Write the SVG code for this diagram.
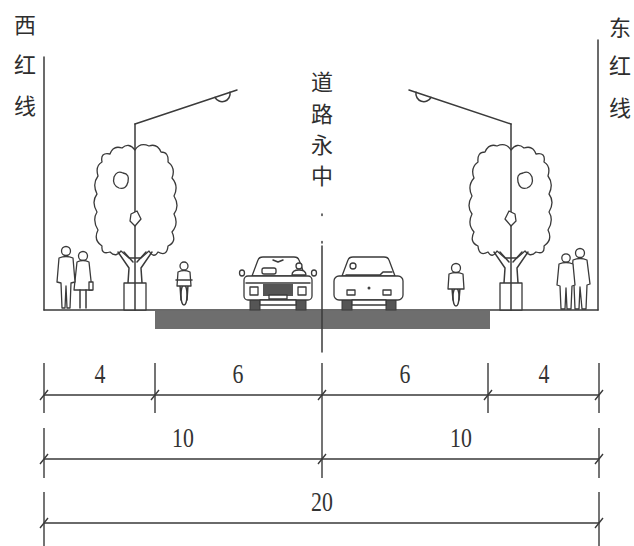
<svg xmlns="http://www.w3.org/2000/svg" xmlns:xlink="http://www.w3.org/1999/xlink" width="634" height="546" viewBox="0 0 634 546">
  <style>
    .ln { fill: none; stroke: #3a3a3a; stroke-width: 1.5; stroke-linecap: round; stroke-linejoin: round; }
    .fig { fill: #fff; stroke: #3a3a3a; stroke-width: 1.3; stroke-linejoin: round; }
    .dark { fill: #555; stroke: #3a3a3a; stroke-width: 1; }
    .cjk { font-family: "Noto Sans CJK SC", "Noto Sans", sans-serif; font-size: 22px; fill: #2e2e2e; text-anchor: middle; dominant-baseline: central; }
    .num { font-family: "Liberation Serif", serif; font-size: 28px; fill: #333; text-anchor: middle; }
    .dim { fill: none; stroke: #3a3a3a; stroke-width: 1.4; }
  </style>
  <defs>
    <!-- street tree with lamp post, drawn for the west side -->
    <g id="treeLamp">
      <path class="fig" d="M135 150 Q140 142 149 146 Q157 143 161 152 Q169 152 168 162 Q176 168 172 178 Q179 186 174 196 Q180 206 174 214 Q179 224 172 232 Q177 242 168 246 Q167 257 158 252 Q154 259 149 251 L141 258 L129 258 L121 251 Q116 258 110 252 Q101 255 102 246 Q93 240 98 230 Q92 220 97 212 Q91 202 97 194 Q92 184 98 176 Q95 166 102 162 Q100 152 110 154 Q113 145 122 148 Q129 142 135 150 Z"/>
      <path class="fig" d="M114 177 Q117 170 123 173 Q130 174 128 182 Q126 190 119 188 Q112 185 114 177 Z"/>
      <path class="ln" d="M128 283 L129 268 L118 252 M142 283 L141 268 L152 252 M124 252 L133 262 M146 252 L137 262"/>
      <rect class="fig" x="124" y="283" width="22" height="27"/>
      <line class="ln" x1="135" y1="124" x2="135" y2="310" stroke-width="2.6"/>
      <path class="fig" d="M131 214 L137 211 L141 219 L135 226 L130 221 Z"/>
      <line class="ln" x1="135" y1="124" x2="237" y2="90" stroke-width="2"/>
      <path class="ln" d="M215 97.3 A8 8 0 0 0 230 92.3"/>
    </g>
  </defs>

  <!-- boundary lines and ground -->
  <g id="boundaries">
    <line class="ln" x1="44" y1="57" x2="44" y2="310"/>
    <line class="ln" x1="598" y1="40" x2="598" y2="310"/>
    <line class="ln" x1="44" y1="310" x2="598" y2="310"/>
    <rect x="155" y="311" width="335" height="18" fill="#6e6e6e"/>
  </g>

  <!-- centre line -->
  <g id="centreline">
    <line class="ln" x1="322" y1="214" x2="322" y2="244" stroke-width="1.2" stroke-dasharray="1.5 26"/>
    <line class="ln" x1="322" y1="246" x2="322" y2="352" stroke-width="1.4"/>
  </g>

  <!-- labels -->
  <g id="labels">
    <text class="cjk" x="25" y="23">西</text>
    <text class="cjk" x="25" y="63">红</text>
    <text class="cjk" x="25" y="104">线</text>
    <text class="cjk" x="620" y="26">东</text>
    <text class="cjk" x="620" y="64">红</text>
    <text class="cjk" x="620" y="106">线</text>
    <text class="cjk" x="322" y="80">道</text>
    <text class="cjk" x="322" y="112">路</text>
    <text class="cjk" x="322" y="143">永</text>
    <text class="cjk" x="322" y="174">中</text>
  </g>

  <!-- trees and lamps on both sides -->
  <g id="west-tree"><use xlink:href="#treeLamp"/></g>
  <g id="east-tree"><use xlink:href="#treeLamp" transform="translate(646 0) scale(-1 1)"/></g>

  <!-- pedestrians, west -->
  <g id="west-people">
    <circle class="fig" cx="83" cy="256" r="4.5"/>
    <path class="fig" d="M77 262 Q83 259 89 262 L92 290 L74 290 Z"/>
    <path class="ln" d="M80 290 L80 308 M86 290 L86 308" stroke-width="1.3"/>
    <rect class="fig" x="89" y="282" width="4" height="8"/>
    <circle class="fig" cx="66" cy="251" r="4.5"/>
    <path class="fig" d="M59 258 Q66 255 73 258 L75 282 L71 283 L70 308 L67 308 L66 286 L65 308 L62 308 L61 283 L57 282 Z"/>
  </g>

  <!-- pedestrians, east -->
  <g id="east-people">
    <circle class="fig" cx="580" cy="253" r="4.5"/>
    <path class="fig" d="M573 260 Q580 257 587 260 L590 284 L587 285 L586 309 L582 309 L580 287 L579 309 L575 309 L574 285 L571 284 Z"/>
    <circle class="fig" cx="566" cy="258" r="4.2"/>
    <path class="fig" d="M559 264 Q566 261 573 264 L575 285 L572 286 L571 309 L567 309 L566 288 L565 309 L561 309 L560 286 L557 285 Z"/>
  </g>

  <!-- cyclists -->
  <g id="west-cyclist">
    <ellipse class="fig" cx="184" cy="295" rx="3" ry="10"/>
    <path class="ln" d="M180 285 L181 300 M188 285 L187 300" stroke-width="1.3"/>
    <path class="fig" d="M178 272 Q184 269 190 272 L191 286 L177 286 Z"/>
    <line class="ln" x1="176" y1="280" x2="192" y2="280" stroke-width="1.3"/>
    <circle class="fig" cx="184" cy="266" r="4"/>
  </g>
  <g id="east-cyclist">
    <ellipse class="fig" cx="456" cy="297" rx="3" ry="9"/>
    <path class="ln" d="M452 288 L453 300 M460 288 L459 300" stroke-width="1.3"/>
    <path class="fig" d="M449 274 Q456 271 463 274 L464 289 L448 289 Z"/>
    <circle class="fig" cx="456" cy="268" r="4.5"/>
  </g>

  <!-- car, front view -->
  <g id="car-front">
    <rect class="dark" x="250" y="298" width="10" height="12"/>
    <rect class="dark" x="296" y="298" width="10" height="12"/>
    <path class="fig" d="M252 276 L258 260 Q259 257 263 257 L294 257 Q298 257 299 260 L305 276 Z"/>
    <rect class="fig" x="262" y="268" width="14" height="6" rx="2"/>
    <circle class="fig" cx="299" cy="266" r="3"/>
    <path class="fig" d="M292 275 Q292 270 299 270 Q306 270 306 275 Z"/>
    <path class="ln" d="M273 260 L278 262 L283 260" stroke-width="1"/>
    <ellipse class="fig" cx="242" cy="273" rx="2.5" ry="3"/>
    <ellipse class="fig" cx="314" cy="273" rx="2.5" ry="3"/>
    <rect class="fig" x="244" y="276" width="68" height="24" rx="4"/>
    <line class="ln" x1="246" y1="283" x2="310" y2="283" stroke-width="1.2"/>
    <rect x="263" y="284" width="30" height="12" fill="#555"/>
    <rect class="fig" x="250" y="287" width="8" height="8"/>
    <rect class="fig" x="298" y="287" width="8" height="8"/>
    <rect class="fig" x="269" y="295" width="18" height="4" stroke-width="1"/>
    <rect class="fig" x="260" y="300" width="36" height="5" stroke-width="1"/>
  </g>

  <!-- car, rear view -->
  <g id="car-rear">
    <rect class="dark" x="342" y="298" width="10" height="12"/>
    <rect class="dark" x="386" y="298" width="10" height="12"/>
    <path class="fig" d="M342 276 L348 260 Q349 257 353 257 L384 257 Q388 257 389 260 L395 276 Z"/>
    <circle class="fig" cx="353" cy="266" r="3"/>
    <path class="ln" d="M346 275 L380 275 L383 272 L392 272" stroke-width="1.1"/>
    <rect class="fig" x="334" y="276" width="69" height="24" rx="5"/>
    <rect class="fig" x="347" y="290" width="8" height="5"/>
    <rect class="fig" x="383" y="290" width="8" height="5"/>
    <circle cx="369" cy="288" r="1.5" fill="#444"/>
    <rect class="fig" x="352" y="300" width="34" height="5" stroke-width="1"/>
  </g>

  <!-- dimension lines -->
  <g id="dimensions">
    <!-- row 1 -->
    <path class="dim" d="M44 395 L599 395 M44 363 L44 413 M155 363 L155 413 M322 363 L322 478 M488 363 L488 413 M599 363 L599 413"/>
    <path class="dim" d="M40 400 L48 390 M151 400 L159 390 M318 400 L326 390 M484 400 L492 390 M595 400 L603 390" stroke-width="1.8"/>
    <text class="num" transform="translate(100 383) scale(0.78 1)">4</text>
    <text class="num" transform="translate(238 383) scale(0.78 1)">6</text>
    <text class="num" transform="translate(405 383) scale(0.78 1)">6</text>
    <text class="num" transform="translate(544 383) scale(0.78 1)">4</text>
    <!-- row 2 -->
    <path class="dim" d="M44 459 L599 459 M44 428 L44 478 M599 428 L599 478"/>
    <path class="dim" d="M40 464 L48 454 M318 464 L326 454 M595 464 L603 454" stroke-width="1.8"/>
    <text class="num" transform="translate(183 447) scale(0.78 1)">10</text>
    <text class="num" transform="translate(461 447) scale(0.78 1)">10</text>
    <!-- row 3 -->
    <path class="dim" d="M44 523 L599 523 M44 492 L44 546 M599 492 L599 546"/>
    <path class="dim" d="M40 528 L48 518 M595 528 L603 518" stroke-width="1.8"/>
    <text class="num" transform="translate(322 511) scale(0.78 1)">20</text>
  </g>
</svg>
